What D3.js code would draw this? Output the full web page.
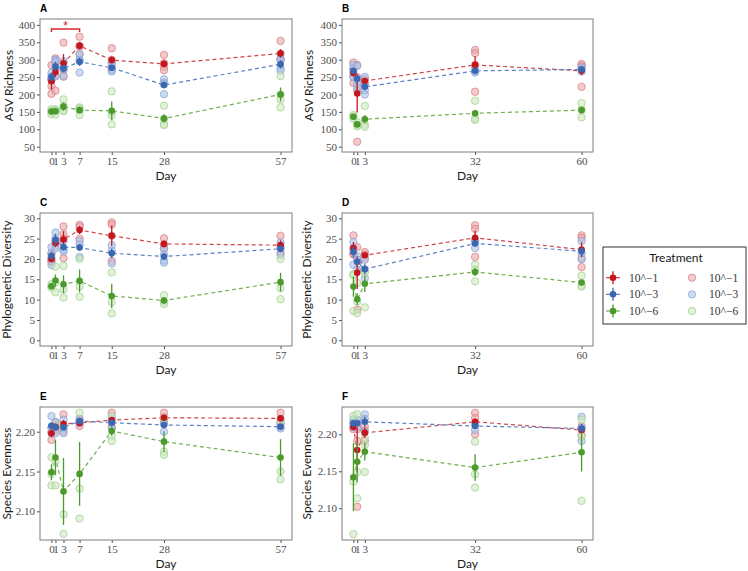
<!DOCTYPE html>
<html>
<head>
<meta charset="utf-8">
<script src="https://cdn.jsdelivr.net/npm/d3@7"></script>
<style>
  body { margin: 0; background: #fff; }
  .tick line { stroke: #4d4d4d; }
  .axis-title { font-family: Lato, "Open Sans", sans-serif; font-size: 12px; fill: #1a1a1a; }
  .panel-tag { font-family: "Liberation Sans", Arial, sans-serif; font-size: 10px; font-weight: bold; fill: #000; }
</style>
</head>
<body>
<div id="chart"></div>
<script>
// ---- data ----
const daysLeft = [0, 1, 3, 7, 15, 28, 57];
const daysRight = [0, 1, 3, 32, 60];
const treatments = ["10^\u22121", "10^\u22123", "10^\u22126"];

// ASV richness, left experiment (A)
const richA_mean = [[238, 265, 290, 340, 299, 288, 318], [250, 280, 275, 294, 277, 227, 287], [151, 152, 165, 155, 153, 131, 200]];
const richA_se = [[23, 15, 26, 10, 10, 10, 12], [12, 14, 10, 12, 8, 8, 12], [6, 8, 12, 5, 27, 12, 20]];
const richA_reps = [
  [[284, 245, 224, 202], [304, 290, 255, 211], [349, 290, 270, 251], [366, 340, 316, 338], [333, 300, 290, 273], [314, 290, 280, 270], [354, 318, 300, 300]],
  [[262, 252, 245, 241], [300, 296, 280, 252], [296, 275, 254, 275], [316, 300, 296, 263], [292, 280, 270, 266], [244, 234, 230, 201], [305, 300, 275, 268]],
  [[158, 152, 150, 143], [157, 156, 152, 142], [186, 167, 155, 152], [163, 160, 155, 141], [209, 150, 140, 114], [168, 130, 115, 112], [253, 200, 185, 163]]
];

// ASV richness, right experiment (B)
const richB_mean = [[262, 203, 239, 285, 268], [268, 245, 222, 268, 272], [136, 114, 129, 146, 155]];
const richB_se = [[10, 55, 8, 25, 12], [8, 12, 10, 6, 5], [5, 5, 12, 8, 7]];
const richB_reps = [
  [[292, 272, 251, 233], [285, 250, 212, 64], [244, 240, 232], [328, 319, 285, 208], [288, 283, 278, 222]],
  [[285, 275, 262, 250], [282, 245, 232, 221], [251, 225, 212, 200], [275, 266, 263], [278, 272, 266]],
  [[141, 137, 130], [120, 112, 109], [167, 113, 107], [182, 130, 127], [175, 156, 134]]
];

// Phylogenetic diversity (C, D)
const pdC_mean = [[20.0, 23.9, 24.8, 27.1, 25.7, 23.7, 23.4], [20.8, 24.7, 22.9, 22.8, 21.4, 20.6, 22.5], [13.3, 14.7, 13.8, 14.6, 10.9, 9.8, 14.3]];
const pdC_se = [[0.8, 1.0, 2.0, 1.0, 2.5, 0.8, 1.2], [1.0, 1.5, 0.7, 0.8, 1.2, 0.8, 0.8], [0.5, 1.5, 2.2, 2.8, 3.0, 0.8, 2.3]];
const pdC_reps = [
  [[21.2, 20.0, 19.5, 19.3], [24.5, 24.0, 23.2], [28.0, 26.1, 25.0, 20.2], [28.4, 27.9, 25.0], [29.0, 28.5, 25.7, 19.5], [25.1, 23.5, 22.5], [25.7, 23.0, 21.5]],
  [[22.9, 21.5, 20.3, 18.5], [26.5, 25.0, 22.6], [24.5, 22.2, 21.9], [24.4, 23.5, 20.5], [23.4, 22.0, 18.9], [22.6, 21.1, 19.6, 19.1], [24.0, 22.5, 21.0]],
  [[13.8, 13.2, 12.9], [18.1, 14.2, 11.8], [18.3, 12.5, 10.5], [20.0, 13.2, 10.7], [16.7, 9.4, 6.6], [11.1, 9.5, 8.9], [20.0, 12.8, 10.1]]
];
const pdD_mean = [[22.7, 16.6, 20.9, 25.2, 22.3], [21.7, 19.3, 17.5, 23.8, 21.9], [13.2, 10.1, 13.9, 16.8, 14.2]];
const pdD_se = [[1.5, 4.0, 0.5, 1.8, 1.8], [1.4, 1.0, 1.3, 0.5, 1.0], [2.5, 1.5, 2.0, 1.0, 0.7]];
const pdD_reps = [
  [[25.8, 22.7, 21.1, 21.2], [22.9, 19.4, 7.5], [21.7, 21.1, 20.2], [28.3, 27.4, 20.5, 24.6], [25.8, 25.2, 18.0, 20.2]],
  [[24.2, 22.3, 18.6], [20.7, 19.8, 17.4], [19.8, 17.4, 15.3], [24.6, 24.1, 22.7], [24.4, 21.4, 19.9]],
  [[16.3, 16.0, 7.2], [14.1, 9.5, 6.7], [17.1, 16.6, 8.1], [18.6, 17.3, 14.5], [15.9, 13.5, 13.2]]
];

// Species evenness (E, F)
const evenE_mean = [[2.198, 2.206, 2.2096, 2.211, 2.2146, 2.2175, 2.2167], [2.2075, 2.2055, 2.2055, 2.2134, 2.2113, 2.2084, 2.2063], [2.149, 2.1675, 2.125, 2.147, 2.2009, 2.1875, 2.1675]];
const evenE_se = [[0.005, 0.004, 0.005, 0.003, 0.003, 0.002, 0.003], [0.004, 0.004, 0.004, 0.002, 0.003, 0.003, 0.003], [0.01, 0.022, 0.042, 0.04, 0.006, 0.013, 0.023]];
const evenE_reps = [
  [[2.205, 2.2, 2.1896], [2.212, 2.205, 2.201], [2.2217, 2.207, 2.2], [2.215, 2.211, 2.207], [2.2238, 2.214, 2.206], [2.2238, 2.218, 2.211], [2.2238, 2.216, 2.2103]],
  [[2.2196, 2.205, 2.198], [2.212, 2.207, 2.198], [2.215, 2.204, 2.198], [2.2167, 2.213, 2.2105], [2.218, 2.212, 2.204], [2.215, 2.21, 2.2], [2.21, 2.206, 2.204]],
  [[2.168, 2.147, 2.1325], [2.208, 2.1625, 2.1325], [2.207, 2.096, 2.0717], [2.2238, 2.1284, 2.091], [2.2196, 2.1946, 2.1884], [2.2167, 2.175, 2.171], [2.2125, 2.15, 2.14]]
];
const evenF_mean = [[2.21, 2.1788, 2.202, 2.217, 2.2058], [2.2149, 2.2149, 2.217, 2.2112, 2.208], [2.142, 2.163, 2.1765, 2.155, 2.1757]];
const evenF_se = [[0.003, 0.03, 0.007, 0.004, 0.004], [0.004, 0.004, 0.007, 0.003, 0.006], [0.046, 0.028, 0.012, 0.018, 0.026]];
const evenF_reps = [
  [[2.215, 2.21, 2.207], [2.215, 2.207, 2.191, 2.102], [2.2103, 2.205, 2.191], [2.229, 2.222, 2.2], [2.211, 2.207, 2.199]],
  [[2.22, 2.215, 2.21], [2.22, 2.215, 2.21], [2.227, 2.221, 2.203], [2.215, 2.213, 2.206], [2.224, 2.209, 2.191]],
  [[2.225, 2.136, 2.065], [2.2274, 2.149, 2.1135], [2.195, 2.1855, 2.149], [2.19, 2.146, 2.128], [2.22, 2.197, 2.11]]
];

const richTicks = [50, 100, 150, 200, 250, 300, 350, 400];
const pdTicks = [0, 5, 10, 15, 20, 25, 30];
const evenTicks = [2.10, 2.15, 2.20];

// ---- styling ----
const W = 748, H = 571;
const serif = '"Liberation Serif", "DejaVu Serif", "Times New Roman", serif';
const darkCol = ["#c3161d", "#3b66b0", "#4a9a2c"];
const lineCol = ["#d0454a", "#5a80c2", "#6eb04f"];
const repFill = ["#eaa7a9", "#aec2e6", "#cde8c1"];
const repStroke = ["#d97b7f", "#86a3d8", "#9fd08c"];

const svg = d3.select("#chart").append("svg")
  .attr("width", W).attr("height", H);

const panels = [
  { tag: "A", x0: 40, x1: 292, y0: 19, y1: 152, days: daysLeft, yDom: [34.7, 417], ticks: richTicks, fmt: d3.format("d"),
    mean: richA_mean, se: richA_se, reps: richA_reps, title: "ASV Richness", titleX: 13 },
  { tag: "B", x0: 342, x1: 593, y0: 19, y1: 152, days: daysRight, yDom: [34.7, 417], ticks: richTicks, fmt: d3.format("d"),
    mean: richB_mean, se: richB_se, reps: richB_reps, title: "ASV Richness", titleX: 313 },
  { tag: "C", x0: 40, x1: 292, y0: 213, y1: 346, days: daysLeft, yDom: [-1.4, 31.3], ticks: pdTicks, fmt: d3.format("d"),
    mean: pdC_mean, se: pdC_se, reps: pdC_reps, title: "Phylogenetic Diversity", titleX: 11 },
  { tag: "D", x0: 342, x1: 593, y0: 213, y1: 346, days: daysRight, yDom: [-1.4, 31.3], ticks: pdTicks, fmt: d3.format("d"),
    mean: pdD_mean, se: pdD_se, reps: pdD_reps, title: "Phylogenetic Diversity", titleX: 311 },
  { tag: "E", x0: 40, x1: 292, y0: 407, y1: 540, days: daysLeft, yDom: [2.064, 2.231], ticks: evenTicks, fmt: d3.format(".2f"),
    mean: evenE_mean, se: evenE_se, reps: evenE_reps, title: "Species Evenness", titleX: 11 },
  { tag: "F", x0: 342, x1: 593, y0: 407, y1: 540, days: daysRight, yDom: [2.057, 2.237], ticks: evenTicks, fmt: d3.format(".2f"),
    mean: evenF_mean, se: evenF_se, reps: evenF_reps, title: "Species Evenness", titleX: 311 }
];

panels.forEach(p => {
  const maxDay = d3.max(p.days);
  const x = d3.scaleLinear().domain([-0.05 * maxDay, 1.05 * maxDay]).range([p.x0, p.x1]);
  const y = d3.scaleLinear().domain(p.yDom).range([p.y1, p.y0]);
  const g = svg.append("g");

  // axes
  const xa = g.append("g").attr("transform", `translate(0,${p.y1})`)
    .call(d3.axisBottom(x).tickValues(p.days).tickSize(3).tickPadding(2).tickFormat(d3.format("d")));
  xa.select(".domain").remove();
  const ya = g.append("g").attr("transform", `translate(${p.x0},0)`)
    .call(d3.axisLeft(y).tickValues(p.ticks).tickSize(3).tickPadding(2).tickFormat(p.fmt));
  ya.select(".domain").remove();
  [xa, ya].forEach(a => a.attr("font-family", serif).attr("font-size", 11)
    .selectAll("text").attr("fill", "#4d4d4d"));

  // dashed mean lines
  const line = d3.line().x((d, i) => x(p.days[i])).y(d => y(d));
  p.mean.forEach((m, t) => {
    g.append("path").datum(m)
      .attr("d", line)
      .attr("fill", "none")
      .attr("stroke", lineCol[t])
      .attr("stroke-width", 1.2)
      .attr("stroke-dasharray", "4,3");
  });

  // replicate points
  p.reps.forEach((byDay, t) => {
    byDay.forEach((vals, i) => {
      g.selectAll(null).data(vals).enter().append("circle")
        .attr("cx", x(p.days[i]))
        .attr("cy", d => y(d))
        .attr("r", 3.7)
        .attr("fill", repFill[t])
        .attr("fill-opacity", 0.6)
        .attr("stroke", repStroke[t])
        .attr("stroke-opacity", 0.8)
        .attr("stroke-width", 0.9);
    });
  });

  // error bars + means
  p.mean.forEach((m, t) => {
    g.selectAll(null).data(m).enter().append("line")
      .attr("x1", (d, i) => x(p.days[i])).attr("x2", (d, i) => x(p.days[i]))
      .attr("y1", (d, i) => y(d - p.se[t][i])).attr("y2", (d, i) => y(d + p.se[t][i]))
      .attr("stroke", darkCol[t]).attr("stroke-width", 1.3);
    g.selectAll(null).data(m).enter().append("circle")
      .attr("cx", (d, i) => x(p.days[i]))
      .attr("cy", d => y(d))
      .attr("r", 3.3)
      .attr("fill", darkCol[t]);
  });

  // border
  g.append("rect")
    .attr("x", p.x0).attr("y", p.y0)
    .attr("width", p.x1 - p.x0).attr("height", p.y1 - p.y0)
    .attr("fill", "none").attr("stroke", "#7f7f7f").attr("stroke-width", 1);

  // titles
  g.append("text").attr("class", "axis-title")
    .attr("x", (p.x0 + p.x1) / 2).attr("y", p.y1 + 28)
    .attr("text-anchor", "middle").text("Day");
  g.append("text").attr("class", "axis-title")
    .attr("transform", `translate(${p.titleX},${(p.y0 + p.y1) / 2}) rotate(-90)`)
    .attr("text-anchor", "middle").text(p.title);
  g.append("text").attr("class", "panel-tag")
    .attr("x", p.x0).attr("y", p.y0 - 7).text(p.tag);

  // significance bracket in panel A (day 0 vs day 7, low dilution)
  if (p.tag === "A") {
    const by = 388.5, bx0 = x(0), bx1 = x(7);
    g.append("path")
      .attr("d", `M${bx0},${y(by) + 3}V${y(by)}H${bx1}V${y(by) + 3}`)
      .attr("fill", "none").attr("stroke", "#d7262b").attr("stroke-width", 1.5);
    g.append("text")
      .attr("x", (bx0 + bx1) / 2).attr("y", y(by) + 1)
      .attr("text-anchor", "middle")
      .attr("font-family", "Liberation Sans, sans-serif").attr("font-size", 13)
      .attr("fill", "#d7262b").text("*");
  }
});

// ---- legend ----
const lg = svg.append("g");
lg.append("rect").attr("x", 603).attr("y", 247).attr("width", 143).attr("height", 77)
  .attr("fill", "#fff").attr("stroke", "#333").attr("stroke-width", 1);
lg.append("text").attr("class", "axis-title")
  .attr("x", 676).attr("y", 261.5).attr("text-anchor", "middle").text("Treatment");

const rowY = d3.scalePoint().domain(treatments).range([277.7, 311]);
treatments.forEach((tr, t) => {
  const yy = rowY(tr);
  lg.append("line").attr("x1", 606).attr("x2", 620).attr("y1", yy).attr("y2", yy)
    .attr("stroke", lineCol[t]).attr("stroke-width", 1.2);
  lg.append("line").attr("x1", 613).attr("x2", 613).attr("y1", yy - 6.5).attr("y2", yy + 6.5)
    .attr("stroke", darkCol[t]).attr("stroke-width", 1.3);
  lg.append("circle").attr("cx", 613).attr("cy", yy).attr("r", 3.3).attr("fill", darkCol[t]);
  lg.append("text").attr("x", 629).attr("y", yy + 4)
    .attr("font-family", serif).attr("font-size", 11.5).attr("fill", "#333").text(tr);

  lg.append("circle").attr("cx", 692).attr("cy", yy).attr("r", 3.7)
    .attr("fill", repFill[t]).attr("fill-opacity", 0.6)
    .attr("stroke", repStroke[t]).attr("stroke-opacity", 0.8).attr("stroke-width", 0.9);
  lg.append("text").attr("x", 709).attr("y", yy + 4)
    .attr("font-family", serif).attr("font-size", 11.5).attr("fill", "#333").text(tr);
});
</script>
</body>
</html>
